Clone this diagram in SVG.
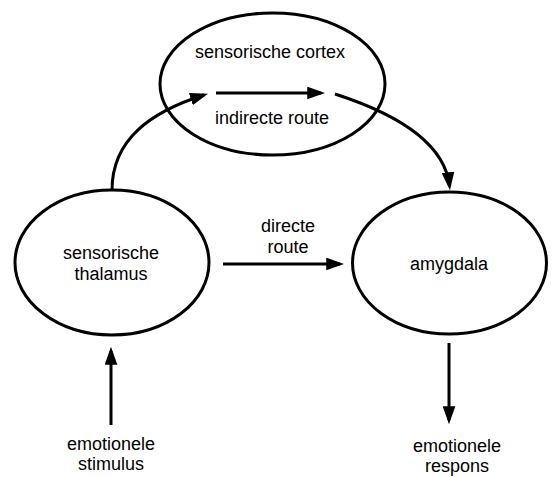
<svg xmlns="http://www.w3.org/2000/svg" width="553" height="477" viewBox="0 0 553 477">
<style>
.node{fill:#fff;stroke:#000;stroke-width:3}
.lbl{font-family:"Liberation Sans",Arial,sans-serif;font-size:18px;fill:#000;text-anchor:middle}
.edge{fill:none;stroke:#000;stroke-width:3;marker-end:url(#ah)}
</style>
<defs>
<marker id="ah" markerUnits="userSpaceOnUse" markerWidth="18" markerHeight="13" viewBox="0 0 17 12" refX="13" refY="6" orient="auto">
<path d="M0,0 L17,6 L0,12 z" fill="#000"/>
</marker>
</defs>
<rect width="553" height="477" fill="#fff"/>
<g id="cortex">
<ellipse class="node" cx="272.5" cy="84" rx="112.5" ry="71"/>
<text class="lbl" x="270" y="58">sensorische cortex</text>
</g>
<g id="thalamus">
<ellipse class="node" cx="112" cy="262.5" rx="97" ry="72.5"/>
<text class="lbl" x="111" y="259">sensorische</text>
<text class="lbl" x="111" y="280">thalamus</text>
</g>
<g id="amygdala">
<ellipse class="node" cx="449.5" cy="263" rx="97" ry="71"/>
<text class="lbl" x="449" y="270">amygdala</text>
</g>
<g id="stimulus">
<text class="lbl" x="111" y="450">emotionele</text>
<text class="lbl" x="111" y="470">stimulus</text>
</g>
<g id="respons">
<text class="lbl" x="457" y="452">emotionele</text>
<text class="lbl" x="457" y="472">respons</text>
</g>
<g id="connectors">
<path class="edge" d="M112,190 C112,140 150,112 204,95"/>
<line class="edge" x1="216" y1="93" x2="321" y2="93"/>
<path class="edge" d="M335,94 C400,115 445,145 449.5,186"/>
<line class="edge" x1="223" y1="264" x2="340" y2="264"/>
<line class="edge" x1="111" y1="425" x2="111" y2="351"/>
<line class="edge" x1="449" y1="343" x2="449" y2="420"/>
<text class="lbl" x="272" y="124">indirecte route</text>
<text class="lbl" x="288" y="232">directe</text>
<text class="lbl" x="288" y="253">route</text>
</g>
</svg>
